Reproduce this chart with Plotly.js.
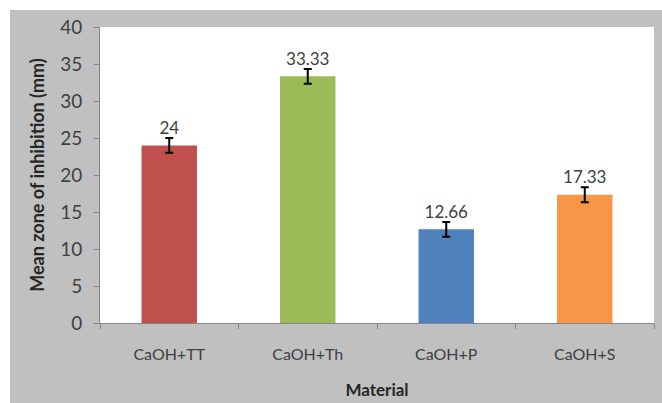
<!DOCTYPE html>
<html>
<head>
<meta charset="utf-8">
<script src="https://cdn.plot.ly/plotly-3.0.1.min.js"></script>
<style>
html,body{margin:0;padding:0;background:#fff;}
#chart{position:absolute;left:10px;top:10px;width:652px;height:393px;}
</style>
</head>
<body>
<div id="chart"></div>
<script>
const categories = ["CaOH+TT", "CaOH+Th", "CaOH+P", "CaOH+S"];
const means = [24, 33.33, 12.66, 17.33];
const errors = [1, 1, 1, 1];
const labels = ["24", "33.33", "12.66", "17.33"];
const colors = ["#C0504D", "#9BBB59", "#4F81BD", "#F79646"];

const font = "Lato, 'Open Sans', sans-serif";

const bars = {
  type: "bar",
  x: categories,
  y: means,
  marker: {color: colors},
  error_y: {type: "data", array: errors, visible: true, color: "#000", thickness: 2, width: 4},
  hoverinfo: "none"
};
const tops = means.map((m, i) => m + errors[i]);
const textTrace = {
  type: "scatter",
  mode: "text",
  x: categories,
  y: tops,
  text: labels,
  textposition: "top center",
  textfont: {family: font, size: 17, color: "#404040"},
  hoverinfo: "none"
};

const layout = {
  width: 652, height: 393,
  paper_bgcolor: "#C0C0C0",
  plot_bgcolor: "#FFFFFF",
  margin: {l: 90, r: 8, t: 17, b: 80},
  showlegend: false,
  bargap: 0.6,
  font: {family: font, color: "#404040"},
  xaxis: {
    type: "category",
    showline: true, linecolor: "#868686", linewidth: 1,
    ticks: "outside", ticklen: 5, tickcolor: "#868686", tickson: "boundaries",
    tickfont: {size: 16, color: "#404040"},
    ticklabelstandoff: 17,
    title: {text: "<b>Material</b>", font: {size: 17, color: "#262626"}, standoff: 21}
  },
  yaxis: {
    range: [0, 40], dtick: 5,
    showgrid: false, zeroline: false,
    showline: true, linecolor: "#868686", linewidth: 1,
    ticks: "outside", ticklen: 5, tickcolor: "#868686",
    tickfont: {size: 19, color: "#404040"},
    ticklabelstandoff: 8,
    title: {text: "<b>Mean zone of inhibition (mm)</b>", font: {size: 18, color: "#262626"}, standoff: 10}
  }
};

Plotly.newPlot("chart", [bars, textTrace], layout, {displayModeBar: false, staticPlot: true});
</script>
</body>
</html>
